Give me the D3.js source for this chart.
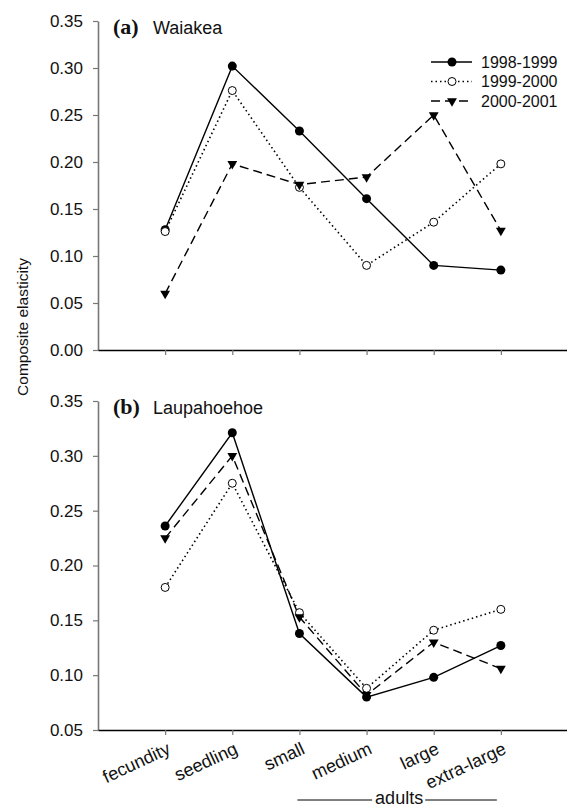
<!DOCTYPE html>
<html>
<head>
<meta charset="utf-8">
<script src="https://cdn.jsdelivr.net/npm/d3@7"></script>
<style>
  body { margin: 0; background: #fff; }
  text { font-family: "Liberation Sans", Arial, sans-serif; fill: #111; }
</style>
</head>
<body>
<div id="chart"></div>
<script>
// stages on the x axis
var stages = ["fecundity", "seedling", "small", "medium", "large", "extra-large"];
var periods = ["1998-1999", "1999-2000", "2000-2001"];

// (a) Waiakea
var waiakea9899 = [0.128, 0.302, 0.233, 0.161, 0.090, 0.085];
var waiakea9900 = [0.126, 0.276, 0.173, 0.090, 0.136, 0.198];
var waiakea0001 = [0.060, 0.198, 0.176, 0.184, 0.250, 0.127];

// (b) Laupahoehoe
var laupa9899 = [0.236, 0.321, 0.138, 0.080, 0.098, 0.127];
var laupa9900 = [0.180, 0.275, 0.157, 0.088, 0.141, 0.160];
var laupa0001 = [0.225, 0.300, 0.153, 0.082, 0.130, 0.106];

var yTicksA = [0, 0.05, 0.10, 0.15, 0.20, 0.25, 0.30, 0.35];
var yTicksB = [0.05, 0.10, 0.15, 0.20, 0.25, 0.30, 0.35];

var width = 567, height = 808;

var svg = d3.select("#chart")
  .append("svg")
  .attr("width", width)
  .attr("height", height);

var x = d3.scalePoint()
  .domain(stages)
  .range([98, 568])
  .padding(1);

// line style per period
var styles = [
  {dash: null, width: 1.4, marker: "dot"},
  {dash: "1.5,3", width: 1.6, marker: "open"},
  {dash: "9,5", width: 1.4, marker: "tri"}
];

function drawMarker(g, kind, cx, cy) {
  if (kind === "dot") {
    g.append("circle").attr("cx", cx).attr("cy", cy).attr("r", 4.5).attr("fill", "#000");
  } else if (kind === "open") {
    g.append("circle").attr("cx", cx).attr("cy", cy).attr("r", 4)
      .attr("fill", "#fff").attr("stroke", "#000").attr("stroke-width", 1);
  } else {
    g.append("path")
      .attr("d", d3.symbol(d3.symbolTriangle, 42)())
      .attr("transform", "translate(" + cx + "," + cy + ") rotate(180)")
      .attr("fill", "#000");
  }
}

function panel(series, domain, top, bottom, ticks, tag, name, showLabels) {
  var y = d3.scaleLinear().domain(domain).range([bottom, top]);
  var g = svg.append("g");

  // y axis
  var ya = g.append("g")
    .attr("transform", "translate(98,0)")
    .call(d3.axisLeft(y).tickValues(ticks).tickFormat(d3.format(".2f")).tickSize(5).tickSizeOuter(0).tickPadding(10));
  ya.select(".domain").attr("stroke", "#777").attr("stroke-width", 1.6);
  ya.selectAll(".tick line").attr("stroke", "#777").attr("stroke-width", 1.2);
  ya.selectAll(".tick text").style("font-size", "17px").attr("fill", "#111");

  // x axis
  var xa = g.append("g")
    .attr("transform", "translate(0," + bottom + ")")
    .call(d3.axisBottom(x).tickSize(5).tickSizeOuter(0));
  xa.select(".domain").attr("stroke", "#000").attr("stroke-width", 1.5);
  xa.selectAll(".tick line").attr("stroke", "#777").attr("stroke-width", 1.2);
  if (showLabels) {
    xa.selectAll(".tick text")
      .attr("x", 0).attr("y", 0).attr("dy", 0)
      .attr("transform", "translate(6,23) rotate(-25)")
      .style("text-anchor", "end")
      .style("font-size", "18px")
      .attr("fill", "#111");
  } else {
    xa.selectAll(".tick text").remove();
  }

  var line = d3.line()
    .x(function(d, i) { return x(stages[i]); })
    .y(function(d) { return y(d); });

  series.forEach(function(s, k) {
    g.append("path")
      .datum(s)
      .attr("d", line)
      .attr("fill", "none")
      .attr("stroke", "#000")
      .attr("stroke-width", styles[k].width)
      .attr("stroke-dasharray", styles[k].dash);
  });
  series.forEach(function(s, k) {
    s.forEach(function(v, i) {
      drawMarker(g, styles[k].marker, x(stages[i]), y(v));
    });
  });

  // panel title
  var t = g.append("text").attr("x", 113).attr("y", top + 13);
  t.append("tspan")
    .style("font-family", "'Liberation Serif', 'Times New Roman', serif")
    .style("font-weight", "bold")
    .style("font-size", "22px")
    .text(tag);
  t.append("tspan").attr("x", 153).style("font-size", "18px").text(name);
  return g;
}

var pa = panel([waiakea9899, waiakea9900, waiakea0001], [0, 0.35], 21, 350, yTicksA, "(a)", "Waiakea", false);
panel([laupa9899, laupa9900, laupa0001], [0.05, 0.35], 401, 730, yTicksB, "(b)", "Laupahoehoe", true);

// legend
var legend = pa.append("g");
periods.forEach(function(p, k) {
  var ly = 62 + k * 19.5;
  legend.append("line")
    .attr("x1", 431).attr("x2", 472).attr("y1", ly).attr("y2", ly)
    .attr("stroke", "#000")
    .attr("stroke-width", styles[k].width)
    .attr("stroke-dasharray", styles[k].dash);
  drawMarker(legend, styles[k].marker, 452, ly);
  legend.append("text")
    .attr("x", 481).attr("y", ly).attr("dy", "0.35em")
    .style("font-size", "16px")
    .text(p);
});

// y axis title
svg.append("text")
  .attr("transform", "translate(28,327) rotate(-90)")
  .style("text-anchor", "middle")
  .style("font-size", "15.5px")
  .text("Composite elasticity");

// adults bracket under the adult stages
var bx0 = x("small"), bx1 = x("extra-large"), bmid = (bx0 + bx1) / 2;
svg.append("line")
  .attr("x1", bx0 - 2).attr("x2", bmid - 28).attr("y1", 800).attr("y2", 800)
  .attr("stroke", "#000").attr("stroke-width", 1);
svg.append("line")
  .attr("x1", bmid + 25).attr("x2", bx1 - 4).attr("y1", 800).attr("y2", 800)
  .attr("stroke", "#000").attr("stroke-width", 1);
svg.append("text")
  .attr("x", bmid - 1).attr("y", 804)
  .style("text-anchor", "middle")
  .style("font-size", "18px")
  .text("adults");
</script>
</body>
</html>
